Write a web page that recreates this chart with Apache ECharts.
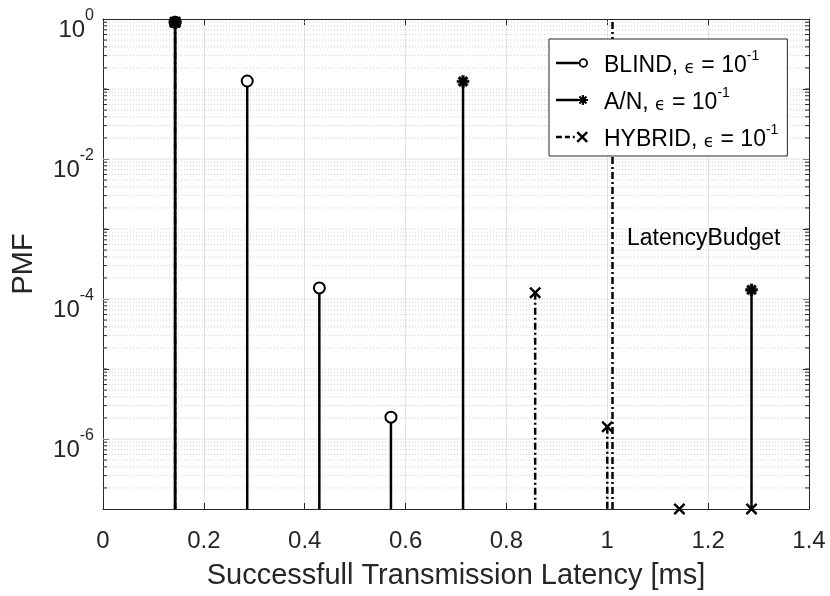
<!DOCTYPE html>
<html lang="en">
<head>
    <meta charset="UTF-8">
    <title>PMF of successfull transmission latency</title>
    <script src="https://cdn.jsdelivr.net/npm/echarts/dist/echarts.min.js"></script>
    <style>
        body { margin: 0; padding: 0; background-color: white; }
        #main { width: 830px; height: 596px; }
    </style>
</head>
<body>
<div id="main"></div>
<script type="text/javascript">
    // slot positions (ms) and PMF values
    var blindX = [0.143, 0.286, 0.429, 0.571];
    var blindPMF = [0.9, 0.13, 1.44e-4, 2.05e-6];
    var anX = [0.143, 0.714, 1.286];
    var anPMF = [0.9, 0.128, 1.35e-4];
    var hybridX = [0.143, 0.857, 1.0, 1.143, 1.286];
    var hybridPMF = [0.9, 1.23e-4, 1.5e-6, 1e-7, 1e-7];

    var latencyBudget = 1.01;
    var budgetLabelAt = [1.039, 7.2e-4];

    var xMin = 0, xMax = 1.4, xStep = 0.2;
    var yMin = 1e-7, yMax = 1;
    var majorDecades = [-2, -4, -6];            // solid grid, labelled
    var minorDecades = [-7, -6, -5, -4, -3, -2, -1];
    var minorSteps = [2, 3, 4, 5, 6, 7, 8, 9];
    var oddDecades = [-5, -3, -1];               // dotted like the minor grid

    var FONT = 'Liberation Sans, Arial, Helvetica, sans-serif';
    var AX = '#262626';

    // marker shapes (MATLAB '*' and 'x')
    var markerAsterisk = 'path://M-1.1,-5L1.1,-5L1.1,5L-1.1,5Z M-5,-1.1L5,-1.1L5,1.1L-5,1.1Z M-2.7,-4.3L4.3,2.7L2.7,4.3L-4.3,-2.7Z M-4.3,2.7L2.7,-4.3L4.3,-2.7L-2.7,4.3Z';
    var markerCross = 'path://M-4.15,-5.85L5.85,4.15L4.15,5.85L-5.85,-4.15Z M-5.85,4.15L4.15,-5.85L5.85,-4.15L-4.15,5.85Z';

    // legend icons: line + marker at the right end
    var iconBlind = 'path://M0,4.8L22,4.8L22,7.2L0,7.2Z M31,6A4.5,4.5 0 1,0 22,6A4.5,4.5 0 1,0 31,6Z M29.3,6A2.8,2.8 0 1,1 23.7,6A2.8,2.8 0 1,1 29.3,6Z';
    var iconAN = 'path://M0,4.8L22,4.8L22,7.2L0,7.2Z M25.5,1L27.5,1L27.5,11L25.5,11Z M21.5,5L31.5,5L31.5,7L21.5,7Z M23.7,1.8L30.7,8.8L29.3,10.2L22.3,3.2Z M22.3,8.8L29.3,1.8L30.7,3.2L23.7,10.2Z';
    var iconHybrid = 'path://M0,4.8L6,4.8L6,7.2L0,7.2Z M9,4.8L14,4.8L14,7.2L9,7.2Z M17,4.8L19,4.8L19,7.2L17,7.2Z M22.35,0.15L32.35,10.15L30.65,11.85L20.65,1.85Z M20.65,10.15L30.65,0.15L32.35,1.85L22.35,11.85Z';

    var dashDot = [7, 3, 2, 3];

    function pairs(xs, ys) {
        return xs.map(function (x, i) { return [x, ys[i]]; });
    }

    var minorVals = [];
    minorDecades.forEach(function (d) {
        minorSteps.forEach(function (m) { minorVals.push(m * Math.pow(10, d)); });
    });
    oddDecades.forEach(function (d) { minorVals.push(Math.pow(10, d)); });
    var majorVals = majorDecades.map(function (d) { return Math.pow(10, d); });

    function gridSeries(vals, solid) {
        return {
            type: 'custom',
            silent: true,
            z: 1,
            data: vals.map(function (v) { return [xMin, v]; }),
            renderItem: function (params, api) {
                var a = api.coord([xMin, api.value(1)]);
                var b = api.coord([xMax, api.value(1)]);
                var kids = [{
                    type: 'line',
                    shape: { x1: a[0], y1: a[1], x2: b[0], y2: b[1] },
                    style: solid ? { stroke: '#e1e1e1', lineWidth: 1 }
                                 : { stroke: '#cfcfcf', lineWidth: 1, lineDash: [1, 2] }
                }];
                if (!solid) {
                    kids.push({ type: 'line', shape: { x1: a[0], y1: a[1], x2: a[0] + 4, y2: a[1] }, style: { stroke: AX, lineWidth: 1 } });
                    kids.push({ type: 'line', shape: { x1: b[0] - 4, y1: b[1], x2: b[0], y2: b[1] }, style: { stroke: AX, lineWidth: 1 } });
                }
                return { type: 'group', children: kids };
            }
        };
    }

    function stemSeries(xs, ys, dash) {
        return {
            type: 'custom',
            silent: true,
            z: 3,
            data: pairs(xs, ys),
            renderItem: function (params, api) {
                var top = api.coord([api.value(0), api.value(1)]);
                var base = api.coord([api.value(0), yMin]);
                return {
                    type: 'line',
                    shape: { x1: top[0], y1: top[1], x2: base[0], y2: base[1] },
                    style: { stroke: '#000', lineWidth: 2.5, lineDash: dash }
                };
            }
        };
    }

    function markerSeries(name, xs, ys, symbol, size, border) {
        return {
            type: 'line',
            name: name,
            data: pairs(xs, ys),
            symbol: symbol,
            symbolSize: size,
            showSymbol: true,
            clip: false,
            silent: true,
            z: 4,
            lineStyle: { opacity: 0 },
            itemStyle: { color: '#000', borderColor: '#000', borderWidth: border }
        };
    }

    var supLabel = function (v) {
        var e = Math.round(Math.log(v) / Math.LN10);
        return e % 2 === 0 ? '{b|10}{s|' + e + '}' : '';
    };

    var legendRich = {
        g: { width: 11 },
        n: { fontSize: 23, lineHeight: 28, fontFamily: FONT, color: '#000', verticalAlign: 'bottom' },
        e: { fontSize: 17, lineHeight: 24, fontFamily: 'DejaVu Sans', color: '#000', verticalAlign: 'bottom' },
        s: { fontSize: 14, lineHeight: 17, fontFamily: FONT, color: '#000', verticalAlign: 'top' }
    };

    var chart = echarts.init(document.getElementById('main'));

    var option = {
        animation: false,
        backgroundColor: '#fff',
        grid: { left: 103, top: 19, right: 21, bottom: 87, containLabel: false, outerBoundsMode: 'none' },
        legend: {
            orient: 'vertical',
            left: 549,
            top: 39,
            z: 10,
            padding: [10, 9, 5, 7],
            itemGap: 9,
            itemWidth: 32,
            itemHeight: 12,
            backgroundColor: '#fff',
            borderColor: AX,
            borderWidth: 1,
            selectedMode: false,
            data: [
                { name: 'BLIND', icon: iconBlind, itemStyle: { color: '#000', borderWidth: 0 } },
                { name: 'A/N', icon: iconAN, itemStyle: { color: '#000', borderWidth: 0 } },
                { name: 'HYBRID', icon: iconHybrid, itemStyle: { color: '#000', borderWidth: 0 } }
            ],
            formatter: function (name) {
                return '{g| }{n|' + name + ', }{e|\u03f5}{n| = 10}{s|-1}';
            },
            textStyle: { rich: legendRich }
        },
        xAxis: [
            {
                type: 'value', min: xMin, max: xMax, interval: xStep, position: 'bottom',
                name: 'Successfull Transmission Latency [ms]',
                nameLocation: 'middle', nameGap: 52,
                nameTextStyle: { fontSize: 29, color: AX, fontFamily: FONT },
                axisLine: { show: true, onZero: false, lineStyle: { color: AX, width: 1 } },
                axisTick: { show: true, inside: true, length: 6, lineStyle: { color: AX } },
                axisLabel: { fontSize: 24, color: AX, margin: 20, fontFamily: FONT },
                splitLine: { show: true, lineStyle: { color: '#e1e1e1', width: 1 } }
            },
            {
                type: 'value', min: xMin, max: xMax, interval: xStep, position: 'top',
                axisLine: { show: true, onZero: false, lineStyle: { color: AX, width: 1 } },
                axisTick: { show: true, inside: true, length: 6, lineStyle: { color: AX } },
                axisLabel: { show: false },
                splitLine: { show: false }
            }
        ],
        yAxis: [
            {
                type: 'log', logBase: 10, min: yMin, max: yMax, position: 'left',
                name: 'PMF', nameLocation: 'middle', nameGap: 65,
                nameTextStyle: { fontSize: 29, color: AX, fontFamily: FONT },
                axisLine: { show: true, onZero: false, lineStyle: { color: AX, width: 1 } },
                axisTick: { show: true, inside: true, length: 6, lineStyle: { color: AX } },
                axisLabel: {
                    formatter: supLabel,
                    margin: 9,
                    padding: [12, 0, 0, 0],
                    rich: {
                        b: { fontSize: 24, lineHeight: 34, color: AX, fontFamily: FONT, verticalAlign: 'bottom' },
                        s: { fontSize: 16, lineHeight: 12, color: AX, fontFamily: FONT, verticalAlign: 'top' }
                    }
                },
                splitLine: { show: false }
            },
            {
                type: 'log', logBase: 10, min: yMin, max: yMax, position: 'right',
                axisLine: { show: true, onZero: false, lineStyle: { color: AX, width: 1 } },
                axisTick: { show: true, inside: true, length: 6, lineStyle: { color: AX } },
                axisLabel: { show: false },
                splitLine: { show: false }
            }
        ],
        series: [
            gridSeries(minorVals, false),
            gridSeries(majorVals, true),
            stemSeries(blindX, blindPMF, null),
            stemSeries(anX, anPMF, null),
            stemSeries(hybridX, hybridPMF, dashDot),
            {
                type: 'line',
                name: 'budget',
                data: [],
                silent: true,
                z: 3,
                markLine: {
                    silent: true,
                    symbol: 'none',
                    animation: false,
                    label: { show: false },
                    lineStyle: { color: '#000', width: 2.5, type: dashDot },
                    data: [{ xAxis: latencyBudget }]
                },
                markPoint: {
                    silent: true,
                    symbol: 'circle',
                    symbolSize: 0,
                    animation: false,
                    label: {
                        show: true, position: 'right', distance: 0,
                        formatter: 'LatencyBudget',
                        color: '#000', fontSize: 23, fontFamily: FONT
                    },
                    data: [{ coord: budgetLabelAt }]
                }
            },
            markerSeries('BLIND', blindX, blindPMF, 'emptyCircle', 11, 2.5),
            markerSeries('A/N', anX, anPMF, markerAsterisk, 12, 0.5),
            markerSeries('HYBRID', hybridX, hybridPMF, markerCross, 12, 0)
        ]
    };

    chart.setOption(option);
</script>
</body>
</html>
